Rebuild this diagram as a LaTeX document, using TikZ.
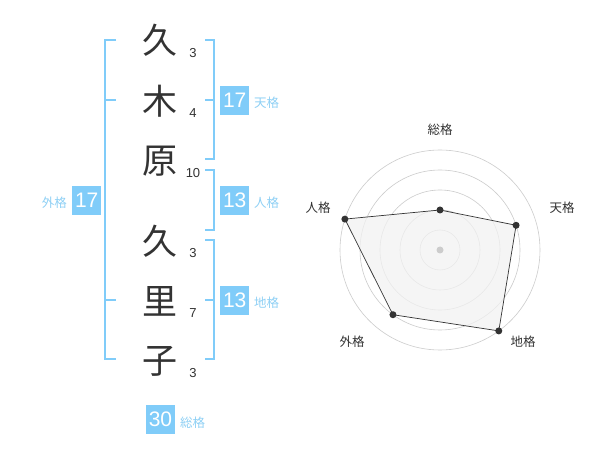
\documentclass[tikz,border=0pt]{standalone}
\usepackage{fontspec}
\usetikzlibrary{calc}
\setmainfont{Liberation Sans}
\newfontfamily\jp{Noto Sans CJK JP}
\definecolor{kblue}{HTML}{80CCF9}
\definecolor{klabel}{HTML}{8ED0F5}
\definecolor{kdark}{HTML}{333333}
\definecolor{kgrid}{HTML}{CCCCCC}
\definecolor{kfill}{HTML}{F2F2F2}
\begin{document}
\begin{tikzpicture}[x=1pt,y=-1pt,
  kanji/.style={font=\jp\fontsize{35}{35}\selectfont, text=kdark, inner sep=0},
  strokenum/.style={font=\fontsize{13}{13}\selectfont, text=kdark, inner sep=0},
  numbox/.style={fill=kblue, text=white, minimum width=29pt, minimum height=29pt, inner sep=0, font=\fontsize{21}{21}\selectfont},
  kaku/.style={font=\jp\fontsize{12.5}{12.5}\selectfont, text=klabel, inner sep=0},
  brk/.style={draw=kblue, line width=2pt},
  grid/.style={draw=kgrid, line width=0.6pt},
  rlabel/.style={font=\jp\fontsize{12.5}{12.5}\selectfont, text=kdark, inner sep=0},
  dot/.style={circle, fill=kdark, inner sep=0, minimum size=7pt}
]
\useasboundingbox (0,0) rectangle (600,470);
\fill[white] (0,0) rectangle (600,470);
% characters
\node[kanji] (c1) at (160,40) {久};
\node[kanji] (c2) at (160,101) {木};
\node[kanji] (c3) at (160,161) {原};
\node[kanji] (c4) at (160,241) {久};
\node[kanji] (c5) at (160,301) {里};
\node[kanji] (c6) at (160,361) {子};
% stroke numbers
\node[strokenum] (s1) at (193,53) {3};
\node[strokenum] (s2) at (193,113) {4};
\node[strokenum] (s3) at (193,173) {10};
\node[strokenum] (s4) at (193,253) {3};
\node[strokenum] (s5) at (193,313) {7};
\node[strokenum] (s6) at (193,373) {3};
% left bracket
\draw[brk] (116,40) -- (105,40) -- (105,359) -- (116,359);
\draw[brk] (105,100) -- (116,100);
\draw[brk] (105,300) -- (116,300);
% right brackets
\draw[brk] (205,40) -- (214,40) -- (214,159) -- (205,159);
\draw[brk] (214,100) -- (205,100);
\draw[brk] (205,170) -- (214,170) -- (214,230) -- (205,230);
\draw[brk] (205,240) -- (214,240) -- (214,359) -- (205,359);
\draw[brk] (214,300) -- (205,300);
% boxes
\node[numbox] (ten) at (234.7,100.5) {17};
\node[kaku, anchor=west] (tenl) at (254,103) {天格};
\node[numbox] (jin) at (234.7,200.5) {13};
\node[kaku, anchor=west] (jinl) at (254,203) {人格};
\node[numbox] (chi) at (234.7,300.5) {13};
\node[kaku, anchor=west] (chil) at (254,303) {地格};
\node[numbox] (gai) at (86.7,200.5) {17};
\node[kaku, anchor=east] (gail) at (67,203) {外格};
\node[numbox] (sou) at (160.5,419.5) {30};
\node[kaku, anchor=west] (soul) at (180,423) {総格};
% radar
\coordinate (ctr) at (440,250);
\foreach \r in {20,40,60,80,100} \draw[grid] (ctr) circle[radius=\r];
\coordinate (p1) at ($(ctr)+(0,-40)$);
\path (ctr) ++(-18:80) coordinate (p2);
\path (ctr) ++(54:100) coordinate (p3);
\path (ctr) ++(126:80) coordinate (p4);
\path (ctr) ++(198:100) coordinate (p5);
\filldraw[fill=kfill, fill opacity=0.75, draw=kdark, line width=0.7pt] (p1) -- (p2) -- (p3) -- (p4) -- (p5) -- cycle;
\fill[kgrid] (ctr) circle[radius=3.5];
\foreach \p in {p1,p2,p3,p4,p5} \node[dot] at (\p) {};
\node[rlabel] (l1) at (440,130) {総格};
\node[rlabel] (l2) at (562,208) {天格};
\node[rlabel] (l3) at (523,342) {地格};
\node[rlabel] (l4) at (352,342) {外格};
\node[rlabel] (l5) at (318,208) {人格};
\end{tikzpicture}
\end{document}
